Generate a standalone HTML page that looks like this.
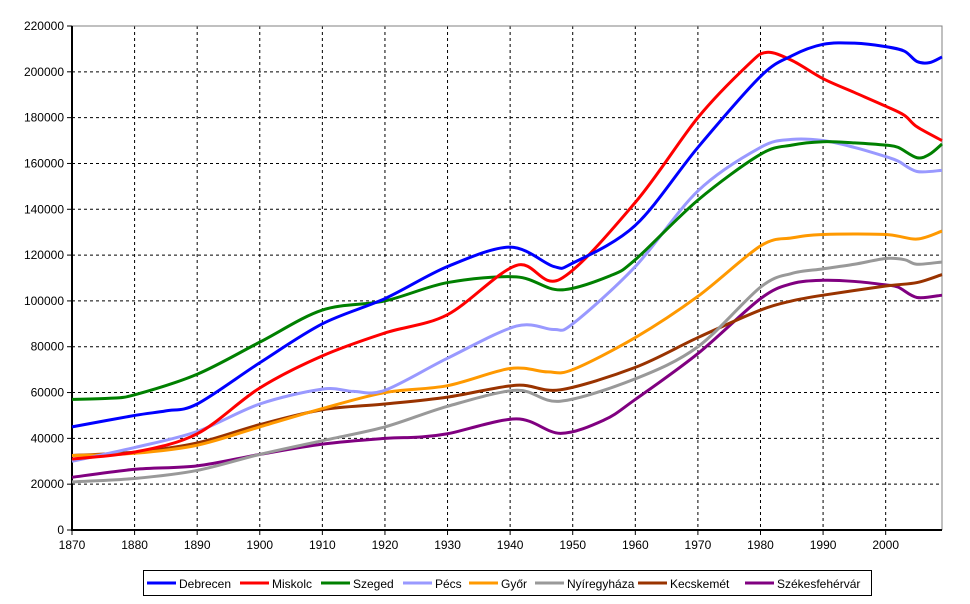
<!DOCTYPE html>
<html><head><meta charset="utf-8"><style>
body{margin:0;background:#fff;}
svg{display:block;font-family:"Liberation Sans",sans-serif;}
</style></head><body>
<svg id="chart" width="970" height="604"></svg>
<script>
const seriesNames=["Debrecen","Miskolc","Szeged","Pécs","Győr","Nyíregyháza","Kecskemét","Székesfehérvár"];
const seriesColors=["#0000ff","#ff0000","#008000","#9999ff","#ff9900","#999999","#993300","#800080"];
const debrecenYears=[1870,1880,1885,1890,1900,1910,1920,1930,1940,1947,1950,1960,1970,1980,1985,1990,1995,2000,2003,2005,2007,2009];
const debrecenVals=[45000,50000,52000,55000,73000,90000,101000,115000,123500,115000,116500,133000,167000,198000,207000,212000,212500,211000,209000,204500,204000,206500];
const miskolcYears=[1870,1880,1890,1900,1910,1920,1930,1941,1948,1960,1970,1978,1981,1985,1990,1995,2000,2003,2005,2009];
const miskolcVals=[31000,34000,42000,62000,76000,86000,94000,115500,109500,143000,180000,203000,208500,205000,197000,191000,185000,181000,176000,170000];
const szegedYears=[1870,1876,1880,1890,1900,1910,1920,1930,1941,1948,1956,1960,1970,1980,1985,1990,1995,2000,2002,2005,2007,2009];
const szegedVals=[57000,57500,59000,68000,82000,96000,100000,108000,110500,104800,111000,118000,144000,164000,168000,169500,169000,168000,167000,162500,164000,168500];
const pecsYears=[1870,1880,1890,1900,1910,1915,1920,1930,1941,1947,1950,1960,1970,1980,1985,1990,1995,2000,2002,2005,2009];
const pecsVals=[30000,36000,43000,55000,61500,60500,61000,75000,89000,87500,90000,115000,148000,167000,170500,170000,167000,163000,161000,156500,157000];
const gyorYears=[1870,1880,1890,1900,1910,1920,1930,1940,1946,1950,1960,1970,1980,1985,1990,2000,2005,2009];
const gyorVals=[32500,33500,37000,45000,53000,60000,63000,70500,69000,70000,84000,102000,124000,127500,129000,129000,127000,130500];
const nyiregyhazaYears=[1870,1880,1890,1900,1910,1920,1930,1941,1948,1960,1970,1980,1985,1990,1995,2000,2003,2005,2009];
const nyiregyhazaVals=[21000,22500,26000,33000,39000,45000,54000,61000,56200,66000,80000,106000,112000,114000,116000,118500,118000,116000,117000];
const kecskemetYears=[1870,1880,1890,1900,1910,1920,1930,1941,1948,1960,1970,1980,1985,1990,2000,2005,2009];
const kecskemetVals=[32500,34000,38000,46000,52500,55000,58000,63200,61200,71000,84000,96000,100000,102500,106500,108000,111500];
const szfvYears=[1870,1880,1890,1900,1910,1920,1925,1930,1941,1948,1955,1960,1970,1980,1985,1990,1995,2000,2002,2005,2009];
const szfvVals=[23000,26500,28000,33000,37500,40000,40500,42000,48500,42200,48000,57000,77000,101000,107500,109000,108500,107000,106000,101500,102500];
const xTicks=[1870,1880,1890,1900,1910,1920,1930,1940,1950,1960,1970,1980,1990,2000];
const yTicks=[0,20000,40000,60000,80000,100000,120000,140000,160000,180000,200000,220000];

const allYears=[debrecenYears,miskolcYears,szegedYears,pecsYears,gyorYears,nyiregyhazaYears,kecskemetYears,szfvYears];
const allVals=[debrecenVals,miskolcVals,szegedVals,pecsVals,gyorVals,nyiregyhazaVals,kecskemetVals,szfvVals];

const L=72,T=26,R=942,B=530,X0=1870,X1=2009,YMAX=220000;
const xs=v=>L+(v-X0)/(X1-X0)*(R-L);
const ys=v=>B-v/YMAX*(B-T);
const NS="http://www.w3.org/2000/svg";
const svg=document.getElementById('chart');
function mk(t,a,p){const e=document.createElementNS(NS,t);for(const k in a)e.setAttribute(k,a[k]);(p||svg).appendChild(e);return e;}

const grid=mk('g',{});


xTicks.forEach(t=>{if(t>X0){mk('line',{x1:xs(t),x2:xs(t),y1:T,y2:B,stroke:'#000','stroke-dasharray':'3,3','stroke-width':1},grid);}});
yTicks.forEach(t=>{if(t>0&&t<YMAX){mk('line',{x1:L,x2:R,y1:ys(t),y2:ys(t),stroke:'#000','stroke-dasharray':'3,3','stroke-width':1},grid);}});
mk('polyline',{points:`${L},${T} ${R},${T} ${R},${B}`,fill:'none',stroke:'#808080','stroke-width':1},grid);

const yAxis=mk('g',{});


mk('line',{x1:L,x2:L,y1:T,y2:B+1,stroke:'#000','stroke-width':2},yAxis);
yTicks.forEach(t=>{
  mk('line',{x1:L-5,x2:L,y1:ys(t),y2:ys(t),stroke:'#000','stroke-width':1},yAxis);
  const tx=mk('text',{x:L-8,y:ys(t)+4,'text-anchor':'end','font-size':12},yAxis);
  
  
  tx.textContent=t;
});
const xAxis=mk('g',{});


mk('line',{x1:L-1,x2:R,y1:B,y2:B,stroke:'#000','stroke-width':2},xAxis);
xTicks.forEach(t=>{
  mk('line',{x1:xs(t),x2:xs(t),y1:B,y2:B+5,stroke:'#000','stroke-width':1},xAxis);
  const tx=mk('text',{x:xs(t),y:B+19,'text-anchor':'middle','font-size':12},xAxis);
  
  
  tx.textContent=t;
});

function smooth(pts){
  let d=`M${pts[0][0]},${pts[0][1]}`;
  for(let i=0;i<pts.length-1;i++){
    const p0=pts[Math.max(i-1,0)],p1=pts[i],p2=pts[i+1],p3=pts[Math.min(i+2,pts.length-1)];
    const t=0.16;
    const c1=[p1[0]+(p2[0]-p0[0])*t,p1[1]+(p2[1]-p0[1])*t];
    const c2=[p2[0]-(p3[0]-p1[0])*t,p2[1]-(p3[1]-p1[1])*t];
    d+=` C${c1[0]},${c1[1]} ${c2[0]},${c2[1]} ${p2[0]},${p2[1]}`;
  }
  return d;
}
const lines=mk('g',{});


for(let s=allYears.length-1;s>=0;s--){
  const pts=allYears[s].map((y,i)=>[xs(y),ys(allVals[s][i])]);
  const p=mk('path',{d:smooth(pts),fill:'none',stroke:seriesColors[s],'stroke-width':3,'stroke-linejoin':'round'},lines);
  
  
}

const legend=mk('g',{});


mk('rect',{x:143.5,y:570.5,width:728,height:25,fill:'#fff',stroke:'#000','stroke-width':1},legend);
const legX=[147,240,321,403,469,535,638,745];
seriesNames.forEach((n,i)=>{
  const g=mk('g',{},legend);
  
  
  mk('line',{x1:legX[i],x2:legX[i]+29,y1:583,y2:583,stroke:seriesColors[i],'stroke-width':3},g);
  const tx=mk('text',{x:legX[i]+32,y:588,'font-size':12},g);
  tx.textContent=n;
});
</script>
</body></html>
